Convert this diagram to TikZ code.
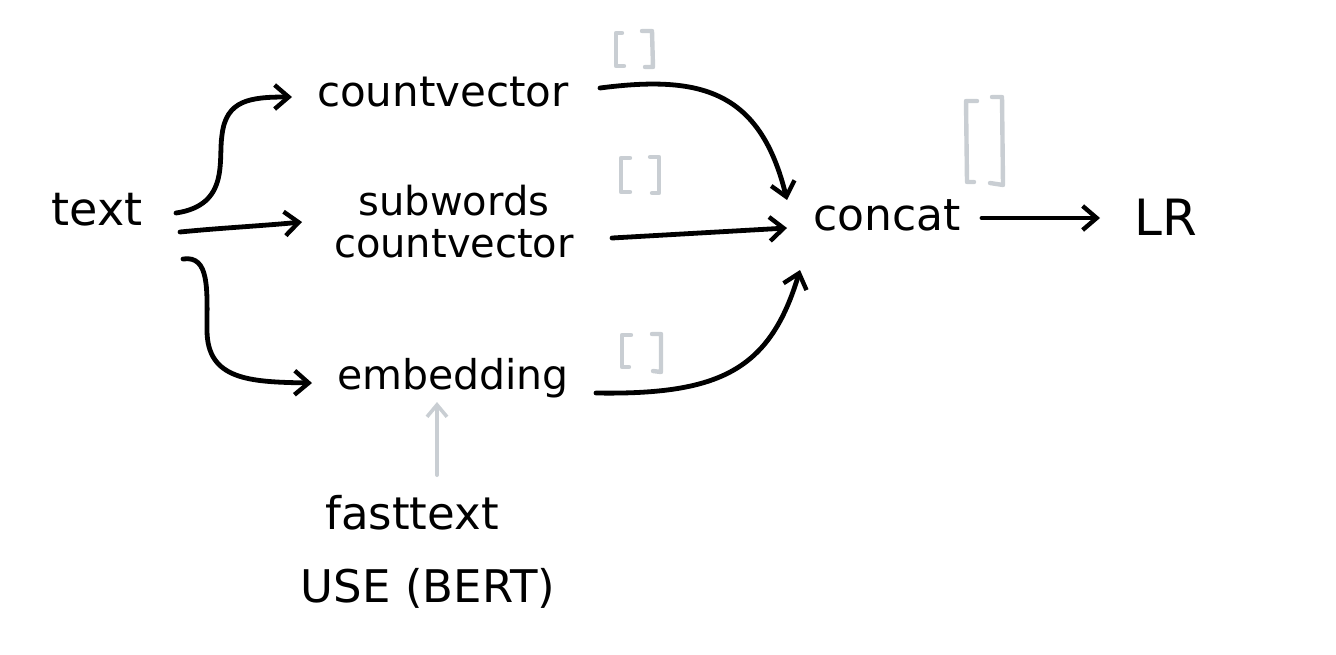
\documentclass[tikz,border=0pt]{standalone}
\usepackage{fontspec}
\setmainfont{DejaVu Sans}
\usetikzlibrary{arrows.meta}
\definecolor{brk}{HTML}{C9CED3}
\tikzset{
  lbl/.style={inner sep=0pt},
  conn/.style={line width=2.4pt, line cap=round, -{Straight Barb[length=7pt,width=12pt,line width=2.2pt]}},
  brack/.style={draw=brk, line width=2.2pt, line cap=round, line join=round},
}
\begin{document}
\begin{tikzpicture}[x=0.5pt,y=-0.5pt]
\useasboundingbox (0,0) rectangle (1336,654);
% nodes
\node[lbl, font=\fontsize{23}{26}\selectfont] (text) at (97,210) {text};
\node[lbl, font=\fontsize{21}{24}\selectfont] (cv) at (443,92) {countvector};
\node[lbl, font=\fontsize{20}{21}\selectfont, align=center] (sub) at (454,222) {subwords\\countvector};
\node[lbl, font=\fontsize{20.5}{24}\selectfont] (emb) at (453,378) {embedding};
\node[lbl, font=\fontsize{22}{25}\selectfont] (concat) at (887,215) {concat};
\node[lbl, font=\fontsize{25}{28}\selectfont] (lr) at (1166,217) {LR};
\node[lbl, font=\fontsize{22.5}{25}\selectfont] (ft) at (412,513) {fasttext};
\node[lbl, font=\fontsize{22.5}{25}\selectfont] (use) at (428,588) {USE (BERT)};
% coordinates for connector ends
\coordinate (t1) at (176,213);
\coordinate (t2) at (180,232);
\coordinate (t3) at (183,259);
\coordinate (c1) at (292,97);
\coordinate (s1) at (302,222);
\coordinate (e1) at (312,383);
\coordinate (cvo) at (600,88);
\coordinate (subo) at (612,238);
\coordinate (embo) at (596,393);
\coordinate (cin1) at (787,200);
\coordinate (cin2) at (787,228);
\coordinate (cin3) at (800,270);
\coordinate (co) at (982,218);
\coordinate (lri) at (1100,218);
\coordinate (ga1) at (437,475);
\coordinate (ga2) at (437,402);
% connectors
\draw[conn] (t1) .. controls (230,205) and (218,160) .. (222,135)
  .. controls (226,100) and (250,97) .. (c1);
\draw[conn] (t2) .. controls (220,228) and (260,226) .. (s1);
\draw[conn] (t3) .. controls (210,255) and (207,290) .. (207,330)
  .. controls (207,380) and (250,382) .. (e1);
\draw[conn] (cvo) .. controls (700,75) and (760,90) .. (cin1);
\draw[conn] (subo) -- (cin2);
\draw[conn] (embo) .. controls (720,395) and (770,370) .. (cin3);
\draw[conn] (co) -- (lri);
\draw[draw=brk, line width=2pt, line cap=round, -{Straight Barb[length=6pt,width=10pt,line width=1.8pt]}] (ga1) -- (ga2);
% brackets
\draw[brack] (622,33) -- (616,33) -- (616,66) -- (624,66);
\draw[brack] (642,31) -- (652,31) -- (653,67) -- (645,67);
\draw[brack] (630,158) -- (621,158) -- (621,192) -- (630,192);
\draw[brack] (650,157) -- (659,157) -- (659,193) -- (652,193);
\draw[brack] (631,335) -- (622,335) -- (622,367) -- (629,367);
\draw[brack] (652,334) -- (661,334) -- (661,372) -- (653,371);
\draw[brack] (977,101) -- (966,101) -- (967,182) -- (974,182);
\draw[brack] (992,97) -- (1002,97) -- (1003,185) -- (990,183);
\end{tikzpicture}
\end{document}
